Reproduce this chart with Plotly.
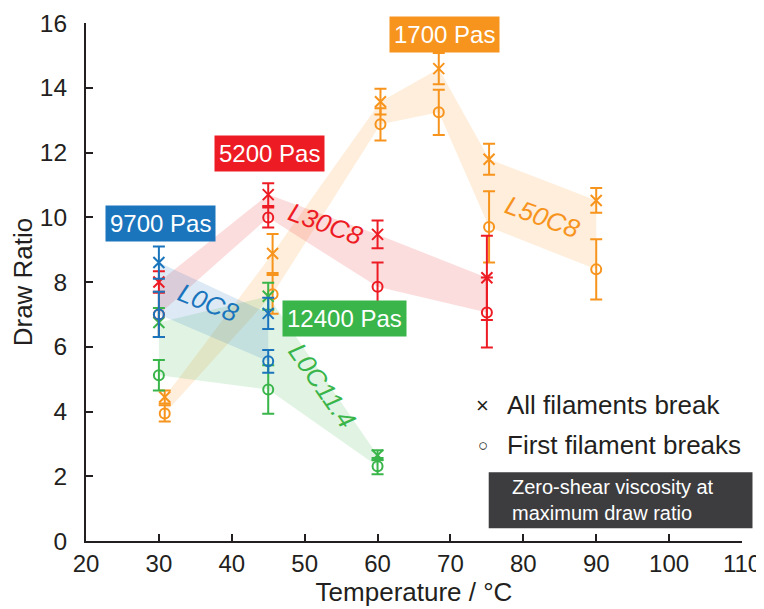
import plotly.graph_objects as go

# ---------------- data ----------------
temp_blue = [30, 45]
blue_all = [8.6, 7.03]
blue_all_err = [0.5, 0.48]
blue_first = [7.0, 5.55]
blue_first_err = [0.7, 0.35]

temp_red = [30, 45, 60, 75]
red_all = [8.0, 10.7, 9.47, 8.13]
red_all_err = [0.33, 0.35, 0.43, 1.3]
red_first = [7.0, 9.99, 7.85, 7.06]
red_first_err = [0.7, 0.31, 0.75, 1.08]

temp_green = [30, 45, 60]
green_all = [6.75, 7.56, 2.65]
green_all_err = [0.45, 0.42, 0.15]
green_first = [5.12, 4.68, 2.31]
green_first_err = [0.47, 0.75, 0.25]

temp_orange = [30.8, 45.6, 60.4, 68.4, 75.3, 90]
orange_all = [4.45, 8.88, 13.57, 14.59, 11.79, 10.52]
orange_all_err = [0.2, 0.6, 0.4, 0.48, 0.48, 0.38]
orange_first = [3.94, 7.62, 12.87, 13.24, 9.70, 8.39]
orange_first_err = [0.25, 0.6, 0.5, 0.7, 1.1, 0.93]

series_names = ["L0C8", "L30C8", "L0C11.4", "L50C8"]
viscosity_labels = ["9700 Pas", "5200 Pas", "12400 Pas", "1700 Pas"]

x_ticks = [20, 30, 40, 50, 60, 70, 80, 90, 100, 110]
y_ticks = [0, 2, 4, 6, 8, 10, 12, 14, 16]

# ---------------- style ----------------
BLUE = "#1a75bc"
RED = "#ed1c24"
GREEN = "#39b54a"
ORANGE = "#f7941d"
INK = "#231f20"
FONT = "Liberation Sans, Arial, sans-serif"

series = [
    (temp_orange, orange_all, orange_all_err, orange_first, orange_first_err, ORANGE, "rgba(247,148,29,0.16)"),
    (temp_green, green_all, green_all_err, green_first, green_first_err, GREEN, "rgba(57,181,74,0.15)"),
    (temp_red, red_all, red_all_err, red_first, red_first_err, RED, "rgba(237,28,36,0.15)"),
    (temp_blue, blue_all, blue_all_err, blue_first, blue_first_err, BLUE, "rgba(26,117,188,0.15)"),
]

fig = go.Figure()

# bands
for t, ya, ea, yf, ef, col, fillc in series:
    fig.add_trace(go.Scatter(
        x=list(t) + list(t)[::-1],
        y=list(ya) + list(yf)[::-1],
        fill="toself", fillcolor=fillc, mode="lines",
        line=dict(width=0), hoverinfo="skip", showlegend=False))

# points with error bars
for t, ya, ea, yf, ef, col, fillc in series:
    fig.add_trace(go.Scatter(
        x=t, y=yf, mode="markers",
        marker=dict(symbol="circle-open", size=10, color=col, line=dict(width=2, color=col)),
        error_y=dict(type="data", array=ef, visible=True, color=col, thickness=2, width=6),
        showlegend=False))
    fig.add_trace(go.Scatter(
        x=t, y=ya, mode="markers",
        marker=dict(symbol="x-thin", size=11, color=col, line=dict(width=2, color=col)),
        error_y=dict(type="data", array=ea, visible=True, color=col, thickness=2, width=6),
        showlegend=False))

annotations = []
# viscosity boxes
box_pos = [(30.28, 9.82, BLUE), (45.16, 11.98, RED), (55.44, 6.87, GREEN), (69.15, 15.66, ORANGE)]
for label, (bx, by, col) in zip(viscosity_labels, box_pos):
    annotations.append(dict(x=bx, y=by, xref="x", yref="y", text=label, showarrow=False,
                            font=dict(family=FONT, size=24, color="white"),
                            bgcolor=col, borderpad=4, xanchor="center", yanchor="middle"))

# rotated series names
name_pos = [(36.86, 7.35, 22, BLUE), (52.9, 9.78, 20, RED), (52.35, 4.81, 55, GREEN), (82.65, 10.0, 20, ORANGE)]
for label, (nx, ny, ang, col) in zip(series_names, name_pos):
    annotations.append(dict(x=nx, y=ny, xref="x", yref="y", text="<i>" + label + "</i>", showarrow=False,
                            font=dict(family=FONT, size=26, color=col), textangle=ang,
                            xanchor="center", yanchor="middle"))

# legend-like keys
annotations += [
    dict(x=74.43, y=4.19, xref="x", yref="y", text="×", showarrow=False,
         font=dict(family=FONT, size=22, color=INK), xanchor="center", yanchor="middle"),
    dict(x=77.44, y=4.19, xref="x", yref="y", text="All filaments break", showarrow=False,
         font=dict(family=FONT, size=26, color=INK), xanchor="left", yanchor="middle"),
    dict(x=74.43, y=2.96, xref="x", yref="y", text="○", showarrow=False,
         font=dict(family=FONT, size=17, color=INK), xanchor="center", yanchor="middle"),
    dict(x=77.44, y=2.96, xref="x", yref="y", text="First filament breaks", showarrow=False,
         font=dict(family=FONT, size=26, color=INK), xanchor="left", yanchor="middle"),
    dict(x=0.6458, y=0.0786, xref="paper", yref="paper",
         text="Zero-shear viscosity at<br>maximum draw ratio", showarrow=False, align="left",
         font=dict(family=FONT, size=20, color="white"), xanchor="left", yanchor="middle"),
]

shapes = [dict(type="rect", xref="paper", yref="paper", x0=0.6139, x1=1.016, y0=0.0245, y1=0.1327,
               fillcolor="#3d3d3f", line=dict(width=0), layer="above")]

# page has an 8px body margin, so the figure is 8px smaller on each axis and shifted
fig.update_layout(
    width=756, height=601,
    margin=dict(l=78, r=21.5, t=15, b=68.3),
    paper_bgcolor="white", plot_bgcolor="white",
    font=dict(family=FONT, color=INK),
    annotations=annotations, shapes=shapes,
    showlegend=False,
    xaxis=dict(range=[20, 110], tickvals=x_ticks, ticks="inside", ticklen=7, tickwidth=2,
               tickcolor=INK, showline=True, linecolor=INK, linewidth=2, showgrid=False,
               zeroline=False, tickfont=dict(size=24, color=INK), ticklabelstandoff=0,
               automargin=False,
               title=dict(text="Temperature / °C", font=dict(size=26, color=INK), standoff=6)),
    yaxis=dict(range=[0, 16], tickvals=y_ticks, ticks="inside", ticklen=7, tickwidth=2,
               tickcolor=INK, showline=True, linecolor=INK, linewidth=2, showgrid=False,
               zeroline=False, tickfont=dict(size=24.5, color=INK), ticklabelstandoff=12,
               automargin=False,
               title=dict(text="Draw Ratio", font=dict(size=26, color=INK), standoff=0)),
)

fig.write_html("out.html", post_script="document.body.style.overflow='hidden';")
